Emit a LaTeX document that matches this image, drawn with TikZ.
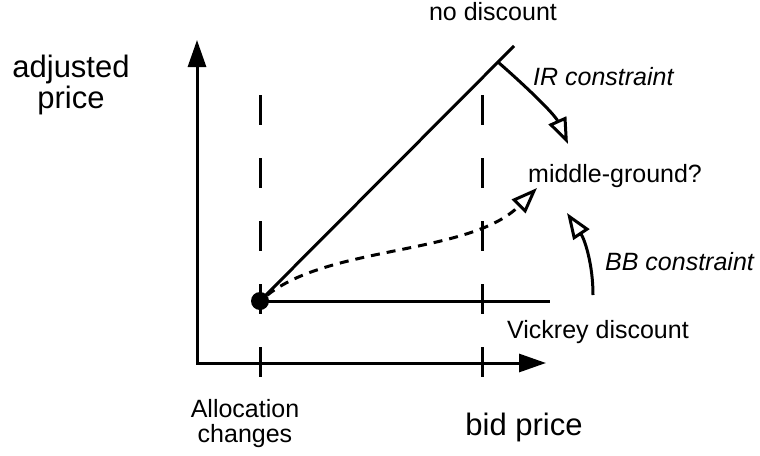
\documentclass[tikz,border=0pt]{standalone}
\usepackage{fontspec}
\setmainfont{Liberation Sans}
\usepackage{tikz}
\usetikzlibrary{positioning, arrows.meta, calc}
\definecolor{ink}{HTML}{000000}
\tikzset{
  ax/.style={<->, >={Triangle[length=27pt, width=18pt]}, line width=3pt,
    color=ink, line join=miter},
  guide/.style={line width=3pt, color=ink, dash pattern=on 30pt off 33pt},
  crv/.style={line width=3pt, color=ink},
  cstr/.style={-{Triangle[open, length=26pt, width=19pt]}, line width=3pt, color=ink},
  probe/.style={cstr, dash pattern=on 9pt off 7pt},
  lbl/.style={font=\fontsize{25}{25}\selectfont, text=ink, inner sep=0pt, align=center},
  lbli/.style={lbl, font=\fontsize{25}{25}\selectfont\itshape},
  biglbl/.style={font=\fontsize{31}{31}\selectfont, text=ink, inner sep=0pt, align=center},
}

\begin{document}
\begin{tikzpicture}[x=1pt, y=-1pt]
  \useasboundingbox (0,0) rectangle (760,455);
  % axes
  \coordinate (o) at (197,363);
  \coordinate (ytip) at (197,40);
  \coordinate (xtip) at (546,363);
  \draw[ax] (ytip) -- (o) -- (xtip);
  % allocation change marks
  \coordinate (g1t) at (260,95);  \coordinate (g1b) at (260,378);
  \coordinate (g2t) at (482,95);  \coordinate (g2b) at (482,378);
  \draw[guide] (g1t) -- (g1b);
  \draw[guide] (g2t) -- (g2b);
  % price lines
  \node[circle, fill=ink, inner sep=0pt, minimum size=18pt] (dot) at (260,301) {};
  \coordinate (nd) at (514,46);
  \coordinate (vk) at (550,301);
  \draw[crv] (dot.center) -- (nd);
  \draw[crv] (dot.center) -- (vk);
  \path (dot.center) -- (nd) coordinate[pos=0.937] (irs);
  \coordinate (irtip) at (568,144);
  \coordinate (mgtip) at (537,188);
  \coordinate (bbs) at (593,295);
  \coordinate (bbtip) at (567,213);
  % labels
  \node[biglbl] (yl) at (71,85) {adjusted\\price};
  \node[biglbl, anchor=base] (xl) at (524,435) {bid price};
  \node[lbl] (alloc) at (245,424) {Allocation\\changes};
  \node[lbl, anchor=base] (nodisc) at (493,20) {no discount};
  \node[lbli, anchor=base west] (ir) at (533,85) {IR constraint};
  \node[lbl, anchor=base west] (mg) at (528,182) {middle-ground?};
  \node[lbli, anchor=base west] (bb) at (605,270) {BB constraint};
  \node[lbl, anchor=base west] (vick) at (507,338) {Vickrey discount};
  % constraints
  \draw[cstr] (irs) .. controls (530,90) and (555,115) .. (irtip);
  \draw[probe] (dot) .. controls (330,245) and (470,255) .. (mgtip);
  \draw[cstr] (bbs) .. controls (593,265) and (585,240) .. (bbtip);
\end{tikzpicture}
\end{document}
